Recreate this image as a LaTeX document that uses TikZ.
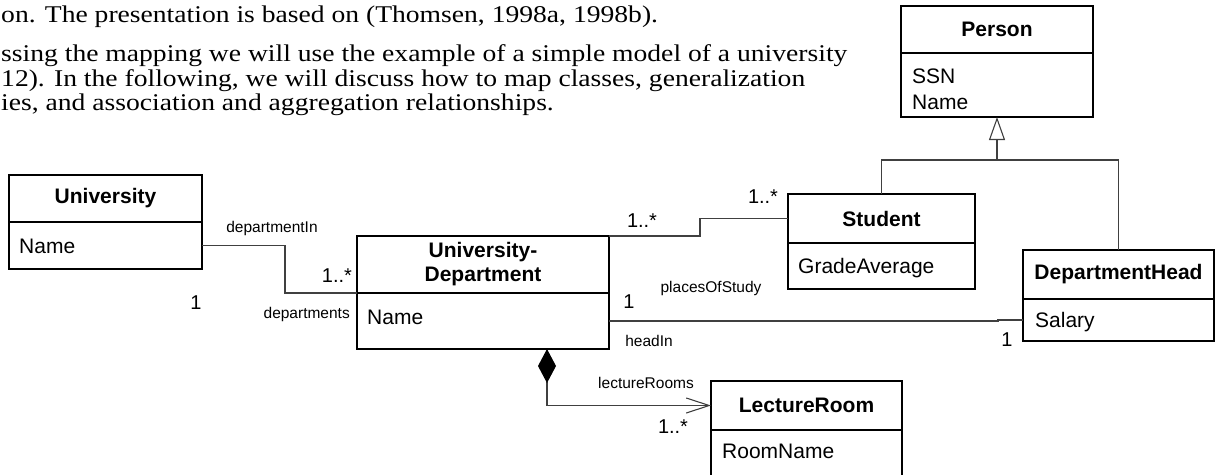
\documentclass[tikz,border=0pt]{standalone}
\usepackage{fontspec}
\setmainfont{Liberation Serif}
\newfontfamily\bodyf[FakeStretch=1.15]{Liberation Serif}
\newfontfamily\arialf{Liberation Sans}
\usetikzlibrary{arrows.meta}
\begin{document}
\begin{tikzpicture}[x=1pt,y=-1pt,
  box/.style={draw=black,line width=1.5pt,inner sep=0pt,outer sep=0pt},
  hdr/.style={box,anchor=north west,font=\fontsize{21}{24}\selectfont\arialf\bfseries,align=center},
  cmp/.style={box,anchor=north},
  attr/.style={font=\fontsize{21}{24}\selectfont\arialf,anchor=base west,inner sep=0pt},
  role/.style={font=\fontsize{15.5}{18}\selectfont\arialf,inner sep=0pt},
  mult/.style={font=\fontsize{20}{22}\selectfont\arialf,inner sep=0pt},
  conn/.style={draw=black!75,line width=1.1pt},
  body/.style={font=\fontsize{24}{25}\selectfont\bodyf,anchor=base west,inner sep=0pt}]
\useasboundingbox (0,0) rectangle (1225,474);
\clip (0,0) rectangle (1225,474);

% body text
\node[body] (t1) at (1,22) {on. The presentation is based on (Thomsen, 1998a, 1998b).};
\node[body] (t2) at (1,61) {ssing the mapping we will use the example of a simple model of a university};
\node[body] (t3) at (1,86) {12). In the following, we will discuss how to map classes, generalization};
\node[body] (t4) at (1,110.5) {ies, and association and aggregation relationships.};

% classes
\node[hdr,minimum width=192pt,minimum height=47pt] (personH) at (901,6) {Person};
\node[cmp,minimum width=192pt,minimum height=64pt] (personA) at (personH.south) {};
\node[attr] (personA1) at (912,83) {SSN};
\node[attr] (personA2) at (912,109) {Name};

\node[hdr,minimum width=193pt,minimum height=47pt] (univH) at (9,175) {University};
\node[cmp,minimum width=193pt,minimum height=47pt] (univA) at (univH.south) {};
\node[attr] (univA1) at (19,253) {Name};

\node[hdr,minimum width=252pt,minimum height=57pt] (udeptH) at (357,236) {University-\\Department};
\node[cmp,minimum width=252pt,minimum height=56pt] (udeptA) at (udeptH.south) {};
\node[attr] (udeptA1) at (367,324) {Name};

\node[hdr,minimum width=187pt,minimum height=49pt] (studentH) at (788,194) {Student};
\node[cmp,minimum width=187pt,minimum height=46pt] (studentA) at (studentH.south) {};
\node[attr] (studentA1) at (798,273) {GradeAverage};

\node[hdr,minimum width=191pt,minimum height=49pt] (dheadH) at (1023,250) {DepartmentHead};
\node[cmp,minimum width=191pt,minimum height=42pt] (dheadA) at (dheadH.south) {};
\node[attr] (dheadA1) at (1035,327) {Salary};

\node[hdr,minimum width=191pt,minimum height=49pt] (lroomH) at (711,381) {LectureRoom};
\node[cmp,minimum width=191pt,minimum height=60pt] (lroomA) at (lroomH.south) {};
\node[attr] (lroomA1) at (722,458) {RoomName};

% generalization
\coordinate (gen) at (997,160);
\draw[conn] (studentH.north) |- (gen) -| (dheadH.north);
\draw[conn,-{Triangle[open,length=23pt,width=16pt,fill=white]}] (gen) -- (personA.south);

% associations
\draw[conn] (univA.east) -- ++(83,0) |- (udeptH.south west);
\draw[conn] (udeptH.north east) -- ++(91,0) |- (studentH.west);
\draw[conn] (udeptA.east) -- ++(389,0) |- (dheadA.west);
\draw[conn,{Diamond[length=34pt,width=18pt,color=black,fill=black]}-{Straight Barb[length=23pt,width=15pt]}] ([xshift=64pt]udeptA.south) |- (lroomH.west);

% labels
\node[role] (lDepIn) at (272,228) {departmentIn};
\node[mult] (mA1) at (337,276) {1..*};
\node[mult] (mA2) at (196,303) {1};
\node[role,anchor=east] (lDeps) at (350,314) {departments};
\node[mult] (mB1) at (642,221) {1..*};
\node[mult] (mB2) at (763,197) {1..*};
\node[role] (lPOS) at (711,288) {placesOfStudy};
\node[mult] (mC1) at (629,302) {1};
\node[role] (lHead) at (649,341) {headIn};
\node[mult] (mC2) at (1007,340) {1};
\node[role] (lLR) at (646,383) {lectureRooms};
\node[mult] (mD) at (673,427) {1..*};
\end{tikzpicture}
\end{document}
